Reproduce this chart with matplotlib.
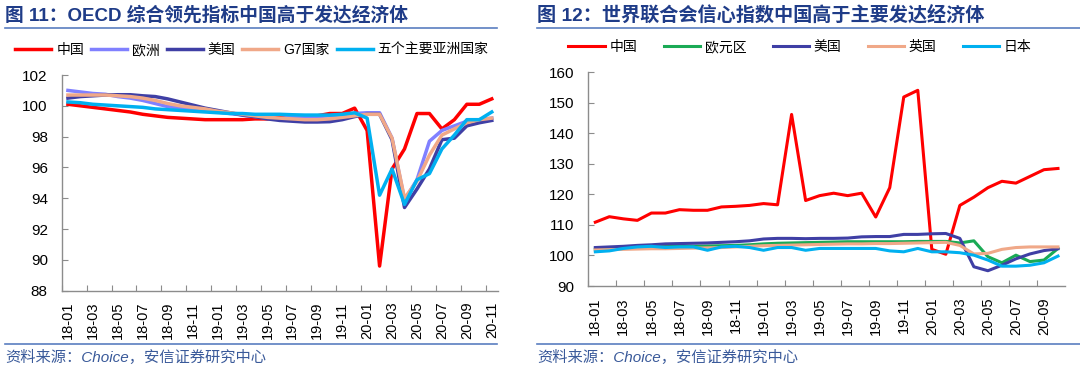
import numpy as np
import matplotlib
matplotlib.use("Agg")
import matplotlib.pyplot as plt
from matplotlib.lines import Line2D

plt.rcParams['font.family'] = ['Liberation Sans', 'Noto Sans CJK SC', 'DejaVu Sans']

# ---------------- data: figure 11 (OECD CLI) ----------------
months_l = [f"{y}-{m:02d}" for y in (18, 19, 20) for m in range(1, 13)][:35]
oecd_china = [100.1, 100.0, 99.9, 99.8, 99.7, 99.6, 99.45, 99.35, 99.25, 99.2, 99.15, 99.1,
              99.1, 99.1, 99.1, 99.15, 99.15, 99.25, 99.3, 99.3, 99.35, 99.5, 99.5, 99.85,
              98.4, 89.6, 95.9, 97.2, 99.5, 99.5, 98.5, 99.1, 100.1, 100.1, 100.45]
oecd_europe = [101.0, 100.9, 100.8, 100.75, 100.6, 100.5, 100.35, 100.15, 99.95, 99.85, 99.8, 99.7,
               99.6, 99.5, 99.4, 99.3, 99.2, 99.15, 99.3, 99.3, 99.3, 99.35, 99.4, 99.5,
               99.55, 99.55, 97.9, 93.9, 95.2, 97.7, 98.4, 98.7, 99.0, 99.1, 99.2]
oecd_us = [100.5, 100.6, 100.65, 100.7, 100.72, 100.72, 100.65, 100.6, 100.45, 100.25, 100.05, 99.85,
           99.7, 99.55, 99.4, 99.3, 99.15, 99.05, 99.0, 98.95, 98.95, 98.97, 99.1, 99.3,
           99.45, 99.45, 97.8, 93.4, 94.6, 95.9, 97.8, 97.9, 98.7, 98.9, 99.05]
oecd_g7 = [100.7, 100.7, 100.7, 100.7, 100.65, 100.6, 100.5, 100.35, 100.15, 100.0, 99.9, 99.8,
           99.65, 99.55, 99.45, 99.35, 99.25, 99.2, 99.15, 99.1, 99.1, 99.15, 99.25, 99.35,
           99.45, 99.45, 97.9, 94.0, 95.1, 96.8, 98.1, 98.5, 98.9, 99.1, 99.2]
oecd_asia5 = [100.25, 100.2, 100.1, 100.05, 100.0, 99.95, 99.9, 99.8, 99.75, 99.7, 99.65, 99.6,
              99.55, 99.5, 99.5, 99.45, 99.45, 99.45, 99.42, 99.4, 99.4, 99.4, 99.45, 99.55,
              99.2, 94.2, 95.9, 93.6, 95.2, 95.6, 97.2, 98.1, 99.1, 99.1, 99.6]

# ---------------- data: figure 12 (consumer confidence) ----------------
months_r = [f"{y}-{m:02d}" for y in (18, 19, 20) for m in range(1, 13)][:34]
cc_china = [110.9, 112.7, 112.0, 111.5, 113.9, 113.9, 115.0, 114.8, 114.8, 115.9, 116.1, 116.4,
            117.0, 116.6, 146.2, 118.0, 119.6, 120.4, 119.6, 120.4, 112.6, 122.2, 151.9, 154.1,
            102.0, 100.4, 116.4, 119.1, 122.2, 124.3, 123.7, 125.9, 128.1, 128.5]
cc_euro = [102.1, 102.2, 102.4, 102.6, 102.8, 102.9, 103.0, 103.0, 103.1, 103.2, 103.3, 103.5,
           103.8, 104.0, 104.1, 104.2, 104.3, 104.4, 104.5, 104.5, 104.5, 104.5, 104.5, 104.6,
           104.6, 104.6, 104.1, 104.8, 99.6, 97.6, 100.1, 98.0, 98.5, 102.3]
cc_us = [102.6, 102.8, 103.0, 103.3, 103.5, 103.8, 103.9, 104.0, 104.1, 104.3, 104.5, 104.8,
         105.4, 105.6, 105.6, 105.5, 105.6, 105.6, 105.7, 106.1, 106.2, 106.2, 106.9, 106.9,
         107.1, 107.2, 105.6, 96.3, 95.0, 96.8, 98.9, 100.5, 101.6, 102.2]
cc_uk = [101.8, 101.9, 102.0, 102.1, 102.2, 102.2, 102.3, 102.4, 102.5, 102.6, 102.8, 103.0,
         103.2, 103.3, 103.4, 103.5, 103.6, 103.7, 103.8, 103.8, 103.9, 103.9, 104.0, 104.1,
         104.2, 104.3, 103.3, 100.5, 100.7, 102.0, 102.6, 102.8, 102.8, 102.8]
cc_japan = [101.2, 101.5, 102.3, 102.8, 103.0, 102.6, 102.8, 102.8, 101.7, 102.8, 103.0, 102.6,
            101.7, 102.6, 102.6, 101.7, 102.3, 102.3, 102.3, 102.3, 102.3, 101.5, 101.2, 102.3,
            101.2, 101.2, 100.9, 100.1, 98.5, 96.5, 96.5, 96.8, 97.6, 99.8]

RED = '#FF0000'
LPURPLE = '#8080FF'
DBLUE = '#3F3FA5'
SALMON = '#F0A888'
CYAN = '#00B0F0'
GREEN = '#1AAA55'
TITLE_C = '#1F3C88'
RULE_C = '#5A7EC0'
AX_C = '#8C8C8C'

fig = plt.figure(figsize=(10.8, 3.69), dpi=100)


def style_axis(ax, n, labels, ylim, yticks):
    ax.set_xlim(-0.5, n - 0.5)
    ax.set_ylim(*ylim)
    ax.set_yticks(yticks)
    for s in ('top', 'right'):
        ax.spines[s].set_visible(False)
    for s in ('left', 'bottom'):
        ax.spines[s].set_color(AX_C)
        ax.spines[s].set_linewidth(1.0)
    ax.set_xticks(np.arange(-0.5, n - 0.5, 2))
    ax.set_xticklabels([])
    ax.set_xticks(np.arange(0, n, 2), minor=True)
    ax.set_xticklabels(labels[::2], minor=True, rotation=90, fontsize=10.5)
    ax.tick_params(axis='x', which='major', direction='in', length=4, color=AX_C)
    ax.tick_params(axis='x', which='minor', length=0, pad=8)
    ax.tick_params(axis='y', direction='in', length=4, color=AX_C, labelsize=11, pad=10)


# ---- left chart ----
axL = fig.add_axes([61.7 / 1080, 1 - 290.7 / 369, (498 - 61.7) / 1080, (290.7 - 75) / 369])
xl = np.arange(len(months_l))
lw = 2.5
axL.plot(xl, oecd_china, color=RED, lw=lw, label='中国')
axL.plot(xl, oecd_europe, color=LPURPLE, lw=lw, label='欧洲')
axL.plot(xl, oecd_us, color=DBLUE, lw=lw, label='美国')
axL.plot(xl, oecd_g7, color=SALMON, lw=lw, label='G7国家')
axL.plot(xl, oecd_asia5, color=CYAN, lw=lw, label='五个主要亚洲国家')
style_axis(axL, len(months_l), months_l, (88, 102), np.arange(88, 103, 2))
hL, lL = axL.get_legend_handles_labels()
fig.legend(hL, lL, loc='center', bbox_to_anchor=(252 / 1080, 1 - 50 / 369), ncol=5,
           frameon=False, fontsize=10, handlelength=2.6, handletextpad=0.35,
           columnspacing=0.5, borderaxespad=0)

# ---- right chart ----
axR = fig.add_axes([588.3 / 1080, 1 - 286 / 369, (1065 - 588.3) / 1080, (286 - 72.3) / 369])
xr = np.arange(len(months_r))
lw2 = 2.2
axR.plot(xr, cc_china, color=RED, lw=lw2, label='中国')
axR.plot(xr, cc_euro, color=GREEN, lw=lw2, label='欧元区')
axR.plot(xr, cc_us, color=DBLUE, lw=lw2, label='美国')
axR.plot(xr, cc_uk, color=SALMON, lw=lw2, label='英国')
axR.plot(xr, cc_japan, color=CYAN, lw=lw2, label='日本')
style_axis(axR, len(months_r), months_r, (90, 160), np.arange(90, 161, 10))
hR, lR = axR.get_legend_handles_labels()
fig.legend(hR, lR, loc='center', bbox_to_anchor=(800 / 1080, 1 - 47 / 369), ncol=5,
           frameon=False, fontsize=10, handlelength=2.6, handletextpad=0.35,
           columnspacing=1.9, borderaxespad=0)

# ---- titles, rules, sources ----
fig.text(5 / 1080, 1 - 15 / 369, '图 11：OECD 综合领先指标中国高于发达经济体', fontsize=13.5,
         fontweight='bold', color=TITLE_C, ha='left', va='center')
fig.text(537 / 1080, 1 - 15 / 369, '图 12：世界联合会信心指数中国高于主要发达经济体', fontsize=13.8,
         fontweight='bold', color=TITLE_C, ha='left', va='center')
for (x0, x1) in ((5, 497), (537, 1080)):
    fig.add_artist(Line2D([x0 / 1080, x1 / 1080], [1 - 28 / 369] * 2, color=RULE_C, lw=1.2))
    fig.add_artist(Line2D([x0 / 1080, x1 / 1080], [1 - 344 / 369] * 2, color=RULE_C, lw=1.2))
for x0 in (5, 537):
    fig.text(x0 / 1080, 1 - 357 / 369, '资料来源：Choice，安信证券研究中心', fontsize=11,
             style='italic', color='#3A5A9A', ha='left', va='center')

fig.savefig('out.png', dpi=100)
